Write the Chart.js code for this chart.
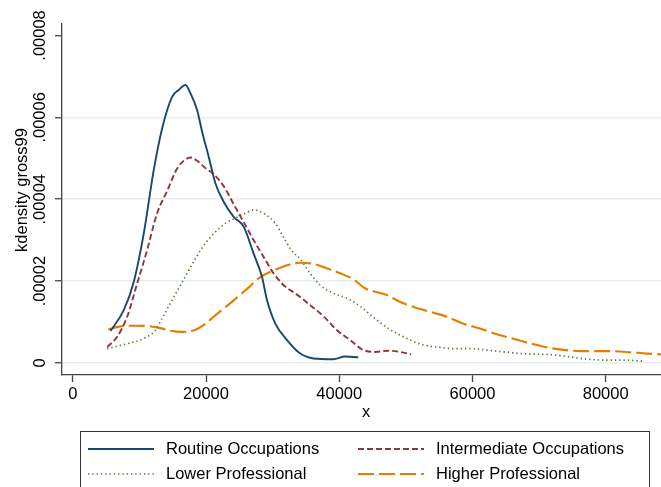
<!DOCTYPE html>
<html>
<head>
<meta charset="utf-8">
<script src="https://cdn.jsdelivr.net/npm/chart.js@4.4.0/dist/chart.umd.min.js"></script>
<style>
    html, body { margin: 0; padding: 0; background: #fff; }
    #wrap { position: relative; width: 661px; height: 487px; overflow: hidden; font-family: "Liberation Sans", Arial, sans-serif; }
    #chart { position: absolute; left: 0; top: 0; }
    #legendBox { position: absolute; left: 80px; top: 431px; width: 570px; height: 80px; border: 1px solid #333; box-sizing: border-box; }
    .item { position: absolute; height: 20px; font-size: 16.5px; line-height: 20px; color: #000; white-space: nowrap; }
    .item svg { position: absolute; left: 0; top: 9px; }
    .item span { position: absolute; left: 78px; top: 0; }
</style>
</head>
<body>
<div id="wrap">
    <canvas id="chart" width="661" height="487"></canvas>
    <div id="legendBox"></div>
</div>
<script>
// --- Data (densities in units of 1e-5) ---
const routineX = [5655, 7650, 9150, 10650, 12150, 13410, 14910, 15900, 16905, 17655, 18660, 19410, 20400, 21405, 22650, 24150, 25650, 27150, 28410, 29160, 30405, 32160, 34155, 36150, 39105, 40905, 42855];
const routineY = [0.78, 1.29, 1.98, 3.16, 4.71, 5.73, 6.50, 6.67, 6.79, 6.59, 6.18, 5.65, 5.04, 4.39, 3.94, 3.57, 3.33, 2.67, 2.10, 1.53, 0.96, 0.56, 0.23, 0.11, 0.09, 0.16, 0.14];

const intermX = [5160, 6660, 8160, 9660, 11160, 12660, 14160, 15660, 16905, 17655, 18660, 19905, 21150, 22650, 24150, 25650, 27150, 28650, 30150, 31650, 33660, 35655, 37650, 39660, 41655, 43455, 45405, 47400, 49155, 50805];
const intermY = [0.39, 0.64, 1.13, 1.94, 2.76, 3.66, 4.20, 4.75, 4.97, 5.02, 4.94, 4.76, 4.61, 4.32, 3.88, 3.44, 3.00, 2.59, 2.19, 1.90, 1.67, 1.41, 1.14, 0.80, 0.56, 0.33, 0.27, 0.30, 0.27, 0.21];

const lowerX = [5160, 7905, 10650, 12405, 13410, 14655, 15900, 17160, 18405, 19905, 21405, 22905, 24405, 25905, 27255, 28905, 30405, 31605, 32805, 34155, 35400, 37155, 39150, 41160, 43155, 45405, 47400, 49905, 52410, 55155, 57405, 59910, 62400, 64905, 68160, 71160, 74160, 76905, 79905, 82905, 85905];
const lowerY = [0.35, 0.46, 0.60, 0.80, 1.09, 1.46, 1.82, 2.19, 2.55, 2.92, 3.20, 3.41, 3.54, 3.66, 3.74, 3.63, 3.41, 3.08, 2.76, 2.54, 2.24, 1.90, 1.70, 1.58, 1.38, 1.08, 0.84, 0.62, 0.45, 0.38, 0.35, 0.35, 0.31, 0.27, 0.22, 0.21, 0.16, 0.10, 0.07, 0.07, 0.04];

const higherX = [5310, 7410, 9405, 11400, 13410, 14910, 16410, 18405, 19905, 21660, 24150, 26160, 28155, 30150, 32160, 34155, 36150, 38160, 40155, 42150, 43905, 45405, 47160, 49155, 51150, 53655, 56160, 58650, 61155, 63660, 66150, 68910, 70905, 73650, 76650, 80160, 83160, 86160, 88305];
const higherY = [0.82, 0.90, 0.91, 0.90, 0.84, 0.78, 0.76, 0.81, 0.96, 1.20, 1.53, 1.81, 2.10, 2.26, 2.39, 2.45, 2.42, 2.31, 2.19, 2.04, 1.82, 1.74, 1.66, 1.49, 1.37, 1.25, 1.13, 0.96, 0.84, 0.70, 0.59, 0.47, 0.39, 0.32, 0.29, 0.29, 0.27, 0.23, 0.21];

const seriesNames = ['Routine Occupations', 'Intermediate Occupations', 'Lower Professional', 'Higher Professional'];
const xTicks = [0, 20000, 40000, 60000, 80000];
const yTicks = [0, 2, 4, 6, 8];
const yTickLabels = ['0', '.00002', '.00004', '.00006', '.00008'];

const FONT = '"Liberation Sans", Arial, sans-serif';

function points(xs, ys) {
    return xs.map(function (x, i) { return { x: x, y: ys[i] }; });
}

const styles = [
    { color: '#1a476f', dash: [], width: 1.9 },
    { color: '#90353b', dash: [6, 3], width: 1.9 },
    { color: '#55752f', dash: [1.3, 3], width: 1.7 },
    { color: '#e37e00', dash: [16, 5], width: 2.1 }
];
const seriesData = [
    points(routineX, routineY),
    points(intermX, intermY),
    points(lowerX, lowerY),
    points(higherX, higherY)
];

// draws rotated y tick labels and the axis titles
const axisText = {
    id: 'axisText',
    afterDraw: function (chart) {
        const c = chart.ctx;
        const y = chart.scales.y;
        c.save();
        c.fillStyle = '#000';
        c.font = '16.5px ' + FONT;
        c.textAlign = 'center';
        c.textBaseline = 'middle';
        yTicks.forEach(function (v, i) {
            c.save();
            c.translate(40, y.getPixelForValue(v));
            c.rotate(-Math.PI / 2);
            c.fillText(yTickLabels[i], 0, 0);
            c.restore();
        });
        c.save();
        c.translate(22, 190);
        c.rotate(-Math.PI / 2);
        c.fillText('kdensity gross99', 0, 0);
        c.restore();
        c.fillText('x', 366, 412);
        c.restore();
    }
};

new Chart(document.getElementById('chart'), {
    type: 'line',
    data: {
        datasets: seriesData.map(function (d, i) {
            return {
                label: seriesNames[i],
                data: d,
                borderColor: styles[i].color,
                borderDash: styles[i].dash,
                borderWidth: styles[i].width,
                pointRadius: 0,
                fill: false,
                cubicInterpolationMode: 'monotone'
            };
        })
    },
    options: {
        responsive: false,
        animation: false,
        devicePixelRatio: 1,
        layout: { padding: { top: 24, right: 0, bottom: 0, left: 0 } },
        plugins: { legend: { display: false }, tooltip: { enabled: false } },
        scales: {
            x: {
                type: 'linear',
                min: -1620,
                max: 88300,
                afterBuildTicks: function (s) { s.ticks = xTicks.map(function (v) { return { value: v }; }); },
                afterFit: function (s) { s.height = 112; },
                grid: { drawOnChartArea: false, tickLength: 7, tickColor: '#444', tickWidth: 1.3 },
                border: { color: '#444', width: 1.3 },
                ticks: {
                    color: '#000',
                    font: { family: FONT, size: 16.5 },
                    padding: 3,
                    maxRotation: 0,
                    autoSkip: false,
                    callback: function (v) { return String(v); }
                }
            },
            y: {
                min: -0.293,
                max: 8.28,
                afterBuildTicks: function (s) { s.ticks = yTicks.map(function (v) { return { value: v }; }); },
                afterFit: function (s) { s.width = 62; },
                grid: {
                    color: function (ctx) { return ctx.tick && ctx.tick.value === 8 ? 'rgba(0,0,0,0)' : '#e6eef0'; },
                    lineWidth: 1.5,
                    tickLength: 7,
                    tickColor: '#444',
                    tickWidth: 1.3
                },
                border: { color: '#444', width: 1.3 },
                ticks: { display: false }
            }
        }
    },
    plugins: [axisText]
});

// --- Legend ---
const legendPos = [
    { left: 88, top: 438 },
    { left: 358, top: 438 },
    { left: 88, top: 463 },
    { left: 358, top: 463 }
];
const wrap = document.getElementById('wrap');
seriesNames.forEach(function (name, i) {
    const item = document.createElement('div');
    item.className = 'item';
    item.style.left = legendPos[i].left + 'px';
    item.style.top = legendPos[i].top + 'px';
    const st = styles[i];
    item.innerHTML = '<svg width="66" height="4"><line x1="0" y1="2" x2="66" y2="2" stroke="' + st.color +
        '" stroke-width="' + st.width + '" stroke-dasharray="' + (st.dash.length ? st.dash.join(',') : 'none') + '"/></svg>' +
        '<span>' + name + '</span>';
    wrap.appendChild(item);
});
</script>
</body>
</html>
